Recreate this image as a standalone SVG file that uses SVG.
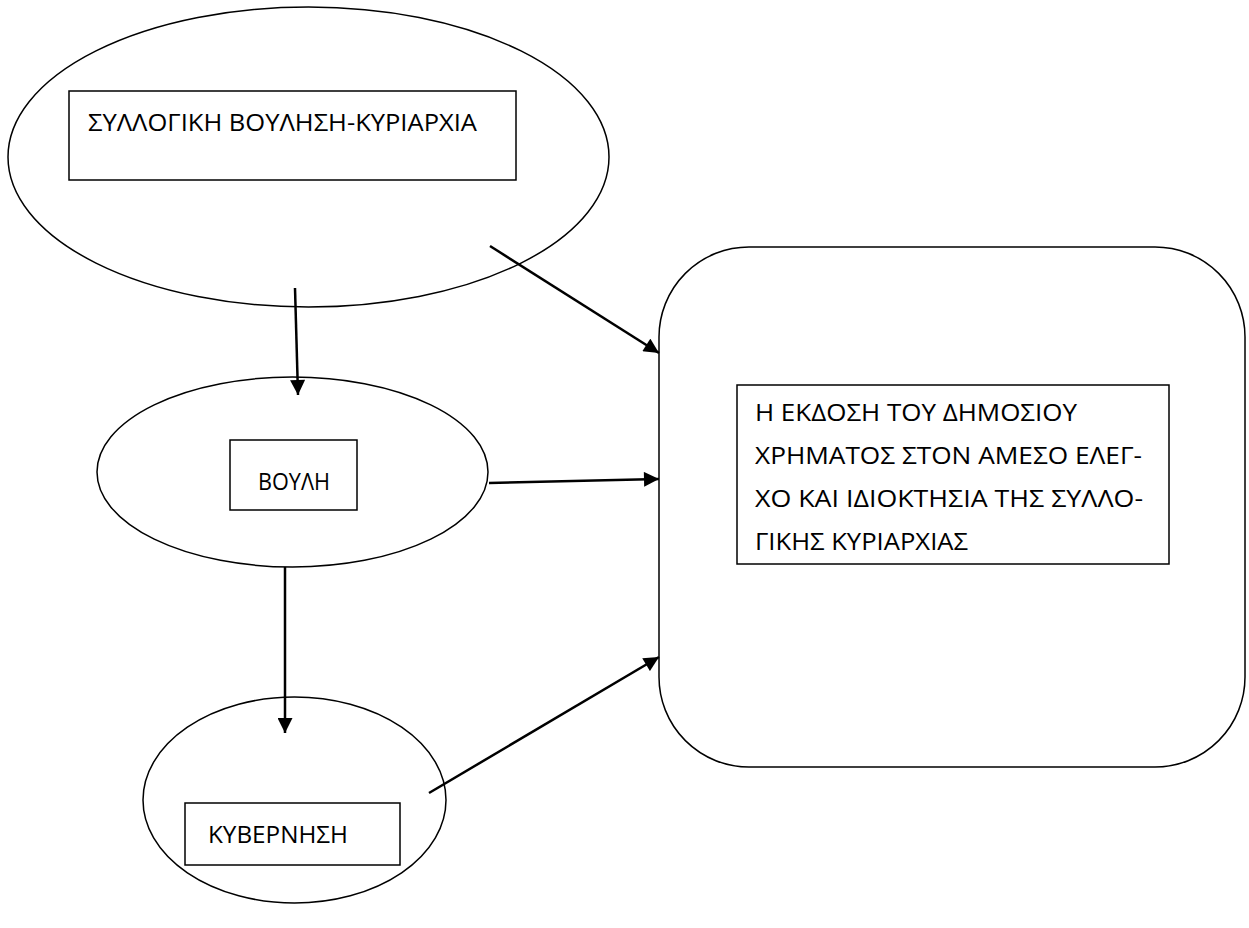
<svg xmlns="http://www.w3.org/2000/svg" width="1249" height="928" viewBox="0 0 1249 928">
<style>
.s{fill:none;stroke:#000;stroke-width:1.5}
.b{fill:none;stroke:#000;stroke-width:1.5}
.c{stroke:#000;stroke-width:2.5;fill:none}
text{font-family:"Open Sans","Noto Sans",sans-serif;font-size:24px;fill:#000}
</style>
<defs>
<marker id="ah" viewBox="0 0 10 10" refX="10" refY="5" markerWidth="6.5" markerHeight="6" markerUnits="strokeWidth" orient="auto">
<path d="M0,0 L10,5 L0,10 z" fill="#000"/>
</marker>
</defs>
<rect width="1249" height="928" fill="#fff"/>
<g id="n1">
<ellipse class="s" cx="308.5" cy="157" rx="300.5" ry="150"/>
<rect class="b" x="69" y="91" width="447" height="89"/>
<text x="88" y="131" textLength="389" lengthAdjust="spacingAndGlyphs">ΣΥΛΛΟΓΙΚΗ ΒΟΥΛΗΣΗ-ΚΥΡΙΑΡΧΙΑ</text>
</g>
<g id="n2">
<ellipse class="s" cx="292.5" cy="472" rx="195.5" ry="95"/>
<rect class="b" x="230" y="440" width="127" height="70"/>
<text x="258" y="490" textLength="72" lengthAdjust="spacingAndGlyphs">ΒΟΥΛΗ</text>
</g>
<g id="n3">
<ellipse class="s" cx="294.5" cy="800" rx="151.5" ry="103"/>
<rect class="b" x="185" y="803" width="215" height="62"/>
<text x="208" y="843" textLength="140" lengthAdjust="spacingAndGlyphs">ΚΥΒΕΡΝΗΣΗ</text>
</g>
<g id="n4">
<rect class="s" x="659" y="247" width="586" height="520" rx="90" ry="90"/>
<rect class="b" x="737" y="385" width="432" height="179"/>
<text x="755" y="421" textLength="322" lengthAdjust="spacingAndGlyphs">Η ΕΚΔΟΣΗ ΤΟΥ ΔΗΜΟΣΙΟΥ</text>
<text x="755" y="464" textLength="387" lengthAdjust="spacingAndGlyphs">ΧΡΗΜΑΤΟΣ ΣΤΟΝ ΑΜΕΣΟ ΕΛΕΓ-</text>
<text x="755" y="507" textLength="388" lengthAdjust="spacingAndGlyphs">ΧΟ ΚΑΙ ΙΔΙΟΚΤΗΣΙΑ ΤΗΣ ΣΥΛΛΟ-</text>
<text x="755" y="550" textLength="213" lengthAdjust="spacingAndGlyphs">ΓΙΚΗΣ ΚΥΡΙΑΡΧΙΑΣ</text>
</g>
<g id="connectors">
<line class="c" x1="490" y1="246" x2="659" y2="353" marker-end="url(#ah)"/>
<line class="c" x1="295" y1="288" x2="298" y2="395" marker-end="url(#ah)"/>
<line class="c" x1="489" y1="483" x2="659" y2="479" marker-end="url(#ah)"/>
<line class="c" x1="285" y1="567" x2="285" y2="733" marker-end="url(#ah)"/>
<line class="c" x1="429" y1="793" x2="659" y2="657" marker-end="url(#ah)"/>
</g>
</svg>
